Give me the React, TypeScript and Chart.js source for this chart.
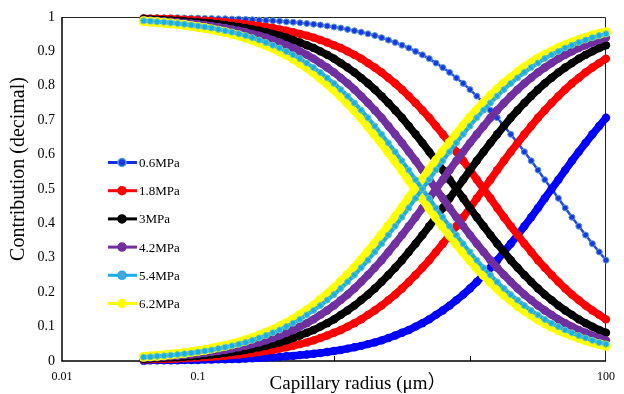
import React, { useEffect, useRef } from "react";
import { Chart, registerables } from "chart.js";

Chart.register(...registerables);

// Capillary radius (µm), log-spaced sample points
const radius = [
  0.03981, 0.04467, 0.05012, 0.05623, 0.0631, 0.07079, 0.07943, 0.08913, 0.1, 0.1122,
  0.1259, 0.1413, 0.1585, 0.1778, 0.1995, 0.2239, 0.2512, 0.2818, 0.3162, 0.3548,
  0.3981, 0.4467, 0.5012, 0.5623, 0.631, 0.7079, 0.7943, 0.8913, 1, 1.122,
  1.259, 1.413, 1.585, 1.778, 1.995, 2.239, 2.512, 2.818, 3.162, 3.548,
  3.981, 4.467, 5.012, 5.623, 6.31, 7.079, 7.943, 8.913, 10, 11.22,
  12.59, 14.13, 15.85, 17.78, 19.95, 22.39, 25.12, 28.18, 31.62, 35.48,
  39.81, 44.67, 50.12, 56.23, 63.1, 70.79, 79.43, 89.13, 100,
];

const pressures = ["0.6MPa", "1.8MPa", "3MPa", "4.2MPa", "5.4MPa", "6.2MPa"];

// Decreasing curves
const fall06 = [
  0.999, 0.998, 0.998, 0.998, 0.998, 0.998, 0.997, 0.997, 0.997, 0.996,
  0.996, 0.995, 0.995, 0.994, 0.994, 0.993, 0.992, 0.991, 0.99, 0.989,
  0.988, 0.986, 0.985, 0.983, 0.981, 0.979, 0.977, 0.974, 0.971, 0.968,
  0.964, 0.96, 0.956, 0.951, 0.946, 0.94, 0.933, 0.926, 0.918, 0.91,
  0.9, 0.89, 0.879, 0.866, 0.853, 0.839, 0.823, 0.807, 0.789, 0.77,
  0.75, 0.729, 0.707, 0.683, 0.659, 0.634, 0.608, 0.582, 0.555, 0.527,
  0.5, 0.473, 0.445, 0.418, 0.392, 0.366, 0.341, 0.317, 0.293,
];
const fall18 = [
  0.996, 0.995, 0.995, 0.994, 0.994, 0.993, 0.992, 0.991, 0.99, 0.989,
  0.988, 0.986, 0.985, 0.983, 0.981, 0.979, 0.977, 0.974, 0.971, 0.968,
  0.964, 0.96, 0.956, 0.951, 0.946, 0.94, 0.933, 0.926, 0.918, 0.91,
  0.9, 0.89, 0.879, 0.866, 0.853, 0.839, 0.823, 0.807, 0.789, 0.77,
  0.75, 0.729, 0.707, 0.683, 0.659, 0.634, 0.608, 0.582, 0.555, 0.527,
  0.5, 0.473, 0.445, 0.418, 0.392, 0.366, 0.341, 0.317, 0.293, 0.271,
  0.25, 0.23, 0.211, 0.193, 0.177, 0.161, 0.147, 0.134, 0.121,
];
const fall3 = [
  0.994, 0.993, 0.992, 0.991, 0.99, 0.989, 0.988, 0.986, 0.985, 0.983,
  0.981, 0.979, 0.977, 0.974, 0.971, 0.968, 0.964, 0.96, 0.956, 0.951,
  0.946, 0.94, 0.933, 0.926, 0.918, 0.91, 0.9, 0.89, 0.879, 0.866,
  0.853, 0.839, 0.823, 0.807, 0.789, 0.77, 0.75, 0.729, 0.707, 0.683,
  0.659, 0.634, 0.608, 0.582, 0.555, 0.527, 0.5, 0.473, 0.445, 0.418,
  0.392, 0.366, 0.341, 0.317, 0.293, 0.271, 0.25, 0.23, 0.211, 0.193,
  0.177, 0.161, 0.147, 0.134, 0.121, 0.11, 0.1, 0.09, 0.082,
];
const fall42 = [
  0.991, 0.99, 0.989, 0.988, 0.986, 0.985, 0.983, 0.981, 0.979, 0.977,
  0.974, 0.971, 0.968, 0.964, 0.96, 0.956, 0.951, 0.946, 0.94, 0.933,
  0.926, 0.918, 0.91, 0.9, 0.89, 0.879, 0.866, 0.853, 0.839, 0.823,
  0.807, 0.789, 0.77, 0.75, 0.729, 0.707, 0.683, 0.659, 0.634, 0.608,
  0.582, 0.555, 0.527, 0.5, 0.473, 0.445, 0.418, 0.392, 0.366, 0.341,
  0.317, 0.293, 0.271, 0.25, 0.23, 0.211, 0.193, 0.177, 0.161, 0.147,
  0.134, 0.121, 0.11, 0.1, 0.09, 0.082, 0.074, 0.067, 0.06,
];
const fall54 = [
  0.989, 0.988, 0.986, 0.985, 0.983, 0.981, 0.979, 0.977, 0.974, 0.971,
  0.968, 0.964, 0.96, 0.956, 0.951, 0.946, 0.94, 0.933, 0.926, 0.918,
  0.91, 0.9, 0.89, 0.879, 0.866, 0.853, 0.839, 0.823, 0.807, 0.789,
  0.77, 0.75, 0.729, 0.707, 0.683, 0.659, 0.634, 0.608, 0.582, 0.555,
  0.527, 0.5, 0.473, 0.445, 0.418, 0.392, 0.366, 0.341, 0.317, 0.293,
  0.271, 0.25, 0.23, 0.211, 0.193, 0.177, 0.161, 0.147, 0.134, 0.121,
  0.11, 0.1, 0.09, 0.082, 0.074, 0.067, 0.06, 0.054, 0.049,
];
const fall62 = [
  0.988, 0.986, 0.985, 0.983, 0.981, 0.979, 0.977, 0.974, 0.971, 0.968,
  0.964, 0.96, 0.956, 0.951, 0.946, 0.94, 0.933, 0.926, 0.918, 0.91,
  0.9, 0.89, 0.879, 0.866, 0.853, 0.839, 0.823, 0.807, 0.789, 0.77,
  0.75, 0.729, 0.707, 0.683, 0.659, 0.634, 0.608, 0.582, 0.555, 0.527,
  0.5, 0.473, 0.445, 0.418, 0.392, 0.366, 0.341, 0.317, 0.293, 0.271,
  0.25, 0.23, 0.211, 0.193, 0.177, 0.161, 0.147, 0.134, 0.121, 0.11,
  0.1, 0.09, 0.082, 0.074, 0.067, 0.06, 0.054, 0.049, 0.044,
];

// Increasing curves
const rise06 = [
  0.001, 0.002, 0.002, 0.002, 0.002, 0.002, 0.003, 0.003, 0.003, 0.004,
  0.004, 0.005, 0.005, 0.006, 0.006, 0.007, 0.008, 0.009, 0.01, 0.011,
  0.012, 0.014, 0.015, 0.017, 0.019, 0.021, 0.023, 0.026, 0.029, 0.032,
  0.036, 0.04, 0.044, 0.049, 0.054, 0.06, 0.067, 0.074, 0.082, 0.09,
  0.1, 0.11, 0.121, 0.134, 0.147, 0.161, 0.177, 0.193, 0.211, 0.23,
  0.25, 0.271, 0.293, 0.317, 0.341, 0.366, 0.392, 0.418, 0.445, 0.473,
  0.5, 0.527, 0.555, 0.582, 0.608, 0.634, 0.659, 0.683, 0.707,
];
const rise18 = [
  0.004, 0.005, 0.005, 0.006, 0.006, 0.007, 0.008, 0.009, 0.01, 0.011,
  0.012, 0.014, 0.015, 0.017, 0.019, 0.021, 0.023, 0.026, 0.029, 0.032,
  0.036, 0.04, 0.044, 0.049, 0.054, 0.06, 0.067, 0.074, 0.082, 0.09,
  0.1, 0.11, 0.121, 0.134, 0.147, 0.161, 0.177, 0.193, 0.211, 0.23,
  0.25, 0.271, 0.293, 0.317, 0.341, 0.366, 0.392, 0.418, 0.445, 0.473,
  0.5, 0.527, 0.555, 0.582, 0.608, 0.634, 0.659, 0.683, 0.707, 0.729,
  0.75, 0.77, 0.789, 0.807, 0.823, 0.839, 0.853, 0.866, 0.879,
];
const rise3 = [
  0.006, 0.007, 0.008, 0.009, 0.01, 0.011, 0.012, 0.014, 0.015, 0.017,
  0.019, 0.021, 0.023, 0.026, 0.029, 0.032, 0.036, 0.04, 0.044, 0.049,
  0.054, 0.06, 0.067, 0.074, 0.082, 0.09, 0.1, 0.11, 0.121, 0.134,
  0.147, 0.161, 0.177, 0.193, 0.211, 0.23, 0.25, 0.271, 0.293, 0.317,
  0.341, 0.366, 0.392, 0.418, 0.445, 0.473, 0.5, 0.527, 0.555, 0.582,
  0.608, 0.634, 0.659, 0.683, 0.707, 0.729, 0.75, 0.77, 0.789, 0.807,
  0.823, 0.839, 0.853, 0.866, 0.879, 0.89, 0.9, 0.91, 0.918,
];
const rise42 = [
  0.009, 0.01, 0.011, 0.012, 0.014, 0.015, 0.017, 0.019, 0.021, 0.023,
  0.026, 0.029, 0.032, 0.036, 0.04, 0.044, 0.049, 0.054, 0.06, 0.067,
  0.074, 0.082, 0.09, 0.1, 0.11, 0.121, 0.134, 0.147, 0.161, 0.177,
  0.193, 0.211, 0.23, 0.25, 0.271, 0.293, 0.317, 0.341, 0.366, 0.392,
  0.418, 0.445, 0.473, 0.5, 0.527, 0.555, 0.582, 0.608, 0.634, 0.659,
  0.683, 0.707, 0.729, 0.75, 0.77, 0.789, 0.807, 0.823, 0.839, 0.853,
  0.866, 0.879, 0.89, 0.9, 0.91, 0.918, 0.926, 0.933, 0.94,
];
const rise54 = [
  0.011, 0.012, 0.014, 0.015, 0.017, 0.019, 0.021, 0.023, 0.026, 0.029,
  0.032, 0.036, 0.04, 0.044, 0.049, 0.054, 0.06, 0.067, 0.074, 0.082,
  0.09, 0.1, 0.11, 0.121, 0.134, 0.147, 0.161, 0.177, 0.193, 0.211,
  0.23, 0.25, 0.271, 0.293, 0.317, 0.341, 0.366, 0.392, 0.418, 0.445,
  0.473, 0.5, 0.527, 0.555, 0.582, 0.608, 0.634, 0.659, 0.683, 0.707,
  0.729, 0.75, 0.77, 0.789, 0.807, 0.823, 0.839, 0.853, 0.866, 0.879,
  0.89, 0.9, 0.91, 0.918, 0.926, 0.933, 0.94, 0.946, 0.951,
];
const rise62 = [
  0.012, 0.014, 0.015, 0.017, 0.019, 0.021, 0.023, 0.026, 0.029, 0.032,
  0.036, 0.04, 0.044, 0.049, 0.054, 0.06, 0.067, 0.074, 0.082, 0.09,
  0.1, 0.11, 0.121, 0.134, 0.147, 0.161, 0.177, 0.193, 0.211, 0.23,
  0.25, 0.271, 0.293, 0.317, 0.341, 0.366, 0.392, 0.418, 0.445, 0.473,
  0.5, 0.527, 0.555, 0.582, 0.608, 0.634, 0.659, 0.683, 0.707, 0.729,
  0.75, 0.77, 0.789, 0.807, 0.823, 0.839, 0.853, 0.866, 0.879, 0.89,
  0.9, 0.91, 0.918, 0.926, 0.933, 0.94, 0.946, 0.951, 0.956,
];

const xTickValues = [0.01, 0.1, 1, 10, 100];
const xTickLabels = ["0.01", "0.1", "", "", "100"];
const yTitle = "Contribution (decimal)";
const xTitle = "Capillary radius (μm）";

const falling = [fall06, fall18, fall3, fall42, fall54, fall62];
const rising = [rise06, rise18, rise3, rise42, rise54, rise62];

const SERIF = "'Liberation Serif', 'Times New Roman', 'Noto Sans CJK SC', serif";

type Style = {
  color: string;
  lineWidth: number;
  r: number;
  ptFill: string;
  ptBorder: string;
  ptBorderW: number;
};
const fallStyles: Style[] = [
  { color: "#2448E8", lineWidth: 2.5, r: 3, ptFill: "#1838E0", ptBorder: "#5B9BD5", ptBorderW: 1 },
  { color: "#FF0000", lineWidth: 7.5, r: 4.2, ptFill: "#FF0000", ptBorder: "#FF0000", ptBorderW: 0 },
  { color: "#000000", lineWidth: 7.5, r: 4.2, ptFill: "#000000", ptBorder: "#000000", ptBorderW: 0 },
  { color: "#7030A0", lineWidth: 7.5, r: 4.2, ptFill: "#7030A0", ptBorder: "#7030A0", ptBorderW: 0 },
  { color: "#1AAEE8", lineWidth: 4, r: 3, ptFill: "#1AAEE8", ptBorder: "#6CC8B8", ptBorderW: 1 },
  { color: "#FFFF00", lineWidth: 9, r: 5, ptFill: "#FFFF00", ptBorder: "#FFFF00", ptBorderW: 0 },
];
const riseStyles: Style[] = [
  { color: "#0000FF", lineWidth: 7.5, r: 4.2, ptFill: "#0000FF", ptBorder: "#0000FF", ptBorderW: 0 },
  fallStyles[1],
  fallStyles[2],
  fallStyles[3],
  fallStyles[4],
  fallStyles[5],
];
// draw order: lower number on top (cyan above yellow, yellow above the rest)
const drawOrder = [11, 9, 7, 5, 0, 3];

const legendStyles = [
  { color: "#1030E8", dot: "#1838E0", ring: "#5B9BD5" },
  { color: "#FF0000", dot: "#FF0000", ring: "#FF0000" },
  { color: "#000000", dot: "#000000", ring: "#000000" },
  { color: "#7030A0", dot: "#7030A0", ring: "#7030A0" },
  { color: "#1AAEE8", dot: "#4FA3D8", ring: "#1AAEE8" },
  { color: "#FFFF00", dot: "#FFFF00", ring: "#FFFF00" },
];

function makeDataset(label: string, values: number[], s: Style, order: number) {
  return {
    label,
    data: radius.map((r, j) => ({ x: r, y: values[j] })),
    borderColor: s.color,
    borderWidth: s.lineWidth,
    pointRadius: s.r,
    pointBackgroundColor: s.ptFill,
    pointBorderColor: s.ptBorder,
    pointBorderWidth: s.ptBorderW,
    pointHoverRadius: s.r,
    tension: 0,
    fill: false,
    clip: false as any,
    order,
  };
}

const decorPlugin = {
  id: "decor",
  beforeDatasetsDraw(chart: any) {
    const { ctx, chartArea: a } = chart;
    ctx.save();
    ctx.strokeStyle = "#222";
    ctx.lineWidth = 1;
    ctx.beginPath();
    ctx.moveTo(a.left, a.top + 0.5);
    ctx.lineTo(a.right - 0.5, a.top + 0.5);
    ctx.lineTo(a.right - 0.5, a.bottom);
    ctx.stroke();
    ctx.strokeStyle = "#000";
    ctx.lineWidth = 1.5;
    ctx.beginPath();
    ctx.moveTo(a.left, a.top);
    ctx.lineTo(a.left, a.bottom);
    ctx.lineTo(a.right, a.bottom);
    ctx.stroke();
    // inward tick marks on x axis
    const xs = chart.scales.x;
    ctx.lineWidth = 1;
    [0.1, 1, 10].forEach((v) => {
      const px = Math.round(xs.getPixelForValue(v)) + 0.5;
      ctx.beginPath();
      ctx.moveTo(px, a.bottom);
      ctx.lineTo(px, a.bottom - 5);
      ctx.stroke();
    });
    ctx.restore();
  },
  afterDatasetsDraw(chart: any) {
    const { ctx } = chart;
    ctx.save();
    // legend
    pressures.forEach((p, i) => {
      const y = 162.5 + i * 28.2;
      const st = legendStyles[i];
      ctx.strokeStyle = st.color;
      ctx.lineWidth = 3;
      ctx.beginPath();
      ctx.moveTo(108, y);
      ctx.lineTo(137, y);
      ctx.stroke();
      ctx.fillStyle = st.dot;
      ctx.strokeStyle = st.ring;
      ctx.lineWidth = 1.5;
      ctx.beginPath();
      ctx.arc(122, y, 4, 0, Math.PI * 2);
      ctx.fill();
      ctx.stroke();
      ctx.fillStyle = "#000";
      ctx.font = `13px ${SERIF}`;
      ctx.textAlign = "left";
      ctx.textBaseline = "middle";
      ctx.fillText(p, 139, y + 1);
    });
    ctx.restore();
  },
  afterDraw(chart: any) {
    const { ctx } = chart;
    ctx.save();
    ctx.fillStyle = "#000";
    ctx.font = `20px ${SERIF}`;
    ctx.textAlign = "center";
    ctx.textBaseline = "middle";
    ctx.translate(19, 169);
    ctx.rotate(-Math.PI / 2);
    ctx.fillText(yTitle, 0, 0);
    ctx.restore();
    ctx.save();
    ctx.fillStyle = "#000";
    ctx.font = `19px ${SERIF}`;
    ctx.textAlign = "center";
    ctx.textBaseline = "alphabetic";
    ctx.fillText(xTitle, 358, 389);
    ctx.restore();
  },
};

export default function App() {
  const ref = useRef<HTMLCanvasElement | null>(null);

  useEffect(() => {
    document.body.style.margin = "0";
    const canvas = ref.current;
    if (!canvas) return;

    const datasets: any[] = [];
    pressures.forEach((p, i) => {
      datasets.push(makeDataset(p, falling[i], fallStyles[i], drawOrder[i] + 1));
      datasets.push(makeDataset(p + " ", rising[i], riseStyles[i], drawOrder[i]));
    });

    const chart = new Chart(canvas, {
      type: "line",
      data: { datasets },
      plugins: [decorPlugin as any],
      options: {
        animation: false,
        responsive: false,
        events: [],
        layout: { padding: { top: 17, right: 10, left: 0, bottom: 0 } },
        plugins: {
          legend: { display: false },
          tooltip: { enabled: false },
          title: { display: false },
        },
        scales: {
          x: {
            type: "logarithmic",
            min: 0.01,
            max: 100,
            grid: { display: false, drawTicks: false },
            border: { display: false },
            afterBuildTicks: (scale: any) => {
              scale.ticks = xTickValues.map((v) => ({ value: v }));
            },
            afterFit: (scale: any) => {
              scale.height = 33;
            },
            ticks: {
              autoSkip: false,
              maxRotation: 0,
              padding: 9,
              color: "#000",
              font: { family: SERIF, size: 12 },
              callback: (v: any) => {
                const idx = xTickValues.indexOf(Number(v));
                return idx >= 0 ? xTickLabels[idx] : "";
              },
            },
          },
          y: {
            type: "linear",
            min: 0,
            max: 1,
            grid: { display: false, drawTicks: false },
            border: { display: false },
            afterFit: (scale: any) => {
              scale.width = 62;
            },
            ticks: {
              stepSize: 0.1,
              padding: 7,
              color: "#000",
              font: { family: SERIF, size: 14 },
              callback: (v: any) => String(Math.round(Number(v) * 10) / 10),
            },
          },
        },
      },
    });
    return () => chart.destroy();
  }, []);

  return (
    <div style={{ width: 624, height: 394, background: "#fff" }}>
      <canvas ref={ref} width={624} height={394} style={{ display: "block" }} />
    </div>
  );
}
